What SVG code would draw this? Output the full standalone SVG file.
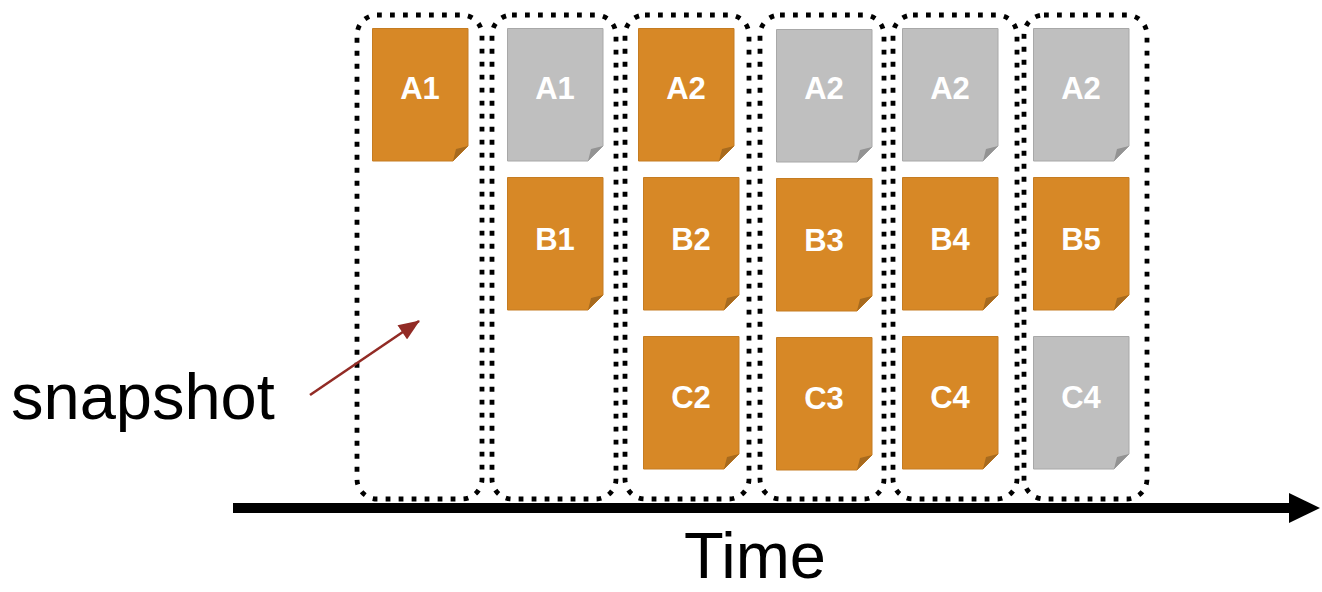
<svg xmlns="http://www.w3.org/2000/svg" width="1322" height="592" viewBox="0 0 1322 592">
  <defs>
    <style>
      .snap { fill: none; stroke: #000; stroke-width: 4.8; stroke-dasharray: 4.8 8.2; }
      .doc-o { fill: #D78826; stroke: #C57C22; stroke-width: 1; }
      .doc-g { fill: #BFBFBF; stroke: #A8A8A8; stroke-width: 1; }
      .fold-o { fill: #A76A1E; }
      .fold-g { fill: #939393; }
      .lbl { font-family: "Liberation Sans", Arial, sans-serif; font-weight: bold; font-size: 31px; fill: #fff; text-anchor: middle; }
      .big { font-family: "Liberation Sans", Arial, sans-serif; font-size: 65px; fill: #000; }
    </style>
    <marker id="redHead" viewBox="0 0 20 16" refX="19" refY="8" markerWidth="22" markerHeight="17" markerUnits="userSpaceOnUse" orient="auto">
      <path d="M0,0 L20,8 L0,16 Z" fill="#922B25"/>
    </marker>
    <!-- document page with a folded lower-right corner, 96 x 133 -->
    <symbol id="pageO" overflow="visible">
      <path class="doc-o" d="M0.5,0.5 H96 V118 L81,133 H0.5 Z"/>
      <path class="fold-o" d="M96,118 L81,133 L84,121 Z"/>
    </symbol>
    <symbol id="pageG" overflow="visible">
      <path class="doc-g" d="M0.5,0.5 H96 V118 L81,133 H0.5 Z"/>
      <path class="fold-g" d="M96,118 L81,133 L84,121 Z"/>
    </symbol>
  </defs>
  <rect width="1322" height="592" fill="#fff"/>

  <!-- snapshot frames -->
  <g id="frames">
    <rect id="frame1" class="snap" x="357" y="15" width="125" height="484" rx="20"/>
    <rect id="frame2" class="snap" x="492" y="15" width="124" height="484" rx="20"/>
    <rect id="frame3" class="snap" x="625" y="15" width="124" height="484" rx="20"/>
    <rect id="frame4" class="snap" x="760" y="15" width="124" height="484" rx="20"/>
    <rect id="frame5" class="snap" x="893" y="15" width="124" height="484" rx="20"/>
    <rect id="frame6" class="snap" x="1024" y="15" width="123" height="484" rx="20"/>
  </g>

  <!-- snapshot 1 -->
  <g id="s1-A1"><use href="#pageO" x="372" y="28"/><text class="lbl" x="420" y="99">A1</text></g>

  <!-- snapshot 2 -->
  <g id="s2-A1"><use href="#pageG" x="507" y="28"/><text class="lbl" x="555" y="99">A1</text></g>
  <g id="s2-B1"><use href="#pageO" x="507" y="177"/><text class="lbl" x="555" y="250">B1</text></g>

  <!-- snapshot 3 -->
  <g id="s3-A2"><use href="#pageO" x="638" y="28"/><text class="lbl" x="686" y="99">A2</text></g>
  <g id="s3-B2"><use href="#pageO" x="643" y="177"/><text class="lbl" x="691" y="250">B2</text></g>
  <g id="s3-C2"><use href="#pageO" x="643" y="336"/><text class="lbl" x="691" y="408">C2</text></g>

  <!-- snapshot 4 -->
  <g id="s4-A2"><use href="#pageG" x="776" y="29"/><text class="lbl" x="824" y="99">A2</text></g>
  <g id="s4-B3"><use href="#pageO" x="776" y="178"/><text class="lbl" x="824" y="251">B3</text></g>
  <g id="s4-C3"><use href="#pageO" x="776" y="337"/><text class="lbl" x="824" y="409">C3</text></g>

  <!-- snapshot 5 -->
  <g id="s5-A2"><use href="#pageG" x="902" y="28"/><text class="lbl" x="950" y="99">A2</text></g>
  <g id="s5-B4"><use href="#pageO" x="902" y="177"/><text class="lbl" x="950" y="250">B4</text></g>
  <g id="s5-C4"><use href="#pageO" x="902" y="336"/><text class="lbl" x="950" y="408">C4</text></g>

  <!-- snapshot 6 -->
  <g id="s6-A2"><use href="#pageG" x="1033" y="28"/><text class="lbl" x="1081" y="99">A2</text></g>
  <g id="s6-B5"><use href="#pageO" x="1033" y="177"/><text class="lbl" x="1081" y="250">B5</text></g>
  <g id="s6-C4"><use href="#pageG" x="1033" y="336"/><text class="lbl" x="1081" y="408">C4</text></g>

  <!-- labels -->
  <g id="label-snapshot"><text class="big" x="11" y="419" font-size="66">snapshot</text></g>
  <g id="label-time"><text class="big" x="755" y="578" font-size="61" text-anchor="middle">Time</text></g>

  <!-- connectors -->
  <g id="connectors">
    <line x1="310" y1="395" x2="419" y2="321" stroke="#922B25" stroke-width="2.6" marker-end="url(#redHead)"/>
    <line x1="233" y1="508" x2="1292" y2="508" stroke="#000" stroke-width="10"/>
    <path d="M1289,493 L1320,508 L1289,523 Z" fill="#000"/>
  </g>
</svg>
